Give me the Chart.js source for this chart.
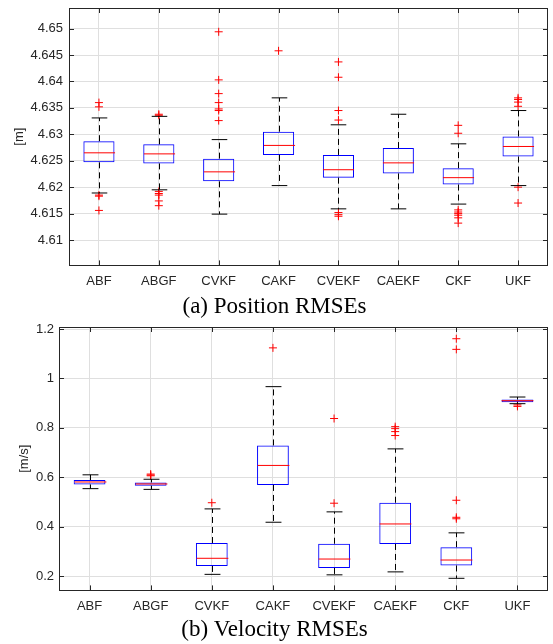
<!DOCTYPE html>
<html>
<head>
<meta charset="utf-8">
<script src="https://cdn.jsdelivr.net/npm/chart.js@4.4.0/dist/chart.umd.min.js"></script>
<style>
  html, body { margin: 0; padding: 0; background: #fff; }
  #wrap { position: relative; width: 553px; height: 644px; }
  .panel { position: absolute; left: 0; width: 553px; height: 322px; }
  #pos { top: 0; }
  #vel { top: 322px; }
</style>
</head>
<body>
<div id="wrap">
  <div class="panel" id="pos"><canvas id="posChart"></canvas></div>
  <div class="panel" id="vel"><canvas id="velChart"></canvas></div>
</div>
<script>
const filters = ['ABF', 'ABGF', 'CVKF', 'CAKF', 'CVEKF', 'CAEKF', 'CKF', 'UKF'];

// position RMSE [m]
const posLow  = [4.6189, 4.6195, 4.6149, 4.6203, 4.6159, 4.6159, 4.6168, 4.6203];
const posQ1   = [4.6247, 4.6245, 4.6211, 4.6261, 4.6218, 4.6226, 4.6205, 4.6258];
const posMed  = [4.6265, 4.6263, 4.6229, 4.6279, 4.6233, 4.6246, 4.6218, 4.6277];
const posQ3   = [4.6287, 4.6281, 4.6254, 4.6305, 4.6261, 4.6274, 4.6236, 4.6296];
const posHigh = [4.6331, 4.6334, 4.6290, 4.6369, 4.6318, 4.6338, 4.6282, 4.6345];
const posOutliers = [
  [4.6360, 4.6352, 4.6185, 4.6183, 4.6156],
  [4.6338, 4.6336, 4.6192, 4.6188, 4.6185, 4.6174, 4.6165],
  [4.6494, 4.6403, 4.6377, 4.6360, 4.6348, 4.6345, 4.6326],
  [4.6458],
  [4.6437, 4.6408, 4.6345, 4.6327, 4.6152, 4.6148, 4.6145],
  [],
  [4.6317, 4.6302, 4.6157, 4.6153, 4.6150, 4.6147, 4.6142, 4.6132],
  [4.6369, 4.6366, 4.6361, 4.6353, 4.6200, 4.6170]
];
const posTicks = [4.61, 4.615, 4.62, 4.625, 4.63, 4.635, 4.64, 4.645, 4.65];

// velocity RMSE [m/s]
const velLow  = [0.554, 0.551, 0.207, 0.418, 0.205, 0.217, 0.191, 0.898];
const velQ1   = [0.571, 0.566, 0.241, 0.569, 0.233, 0.330, 0.243, 0.904];
const velMed  = [0.581, 0.573, 0.272, 0.648, 0.269, 0.411, 0.265, 0.910];
const velQ3   = [0.589, 0.579, 0.334, 0.729, 0.331, 0.497, 0.317, 0.915];
const velHigh = [0.610, 0.592, 0.472, 0.967, 0.460, 0.715, 0.375, 0.925];
const velOutliers = [
  [],
  [0.613, 0.609, 0.606],
  [0.497],
  [1.124],
  [0.838, 0.495],
  [0.805, 0.797, 0.785, 0.769],
  [1.161, 1.118, 0.507, 0.438, 0.432],
  [0.893, 0.887]
];
const velTicks = [0.2, 0.4, 0.6, 0.8, 1, 1.2];

const tickFont = { family: "'Liberation Sans', Arial, Helvetica, sans-serif", size: 13 };
const captionFont = { family: "'Liberation Serif', 'Times New Roman', Times, serif", size: 23, weight: 'normal' };
const axisColor = '#262626';
const gridColor = '#dfdfdf';

// whiskers, caps, medians, plus the axes box with inward ticks
const boxPlot = {
  id: 'boxPlot',
  afterDatasetsDraw(chart, args, opts) {
    const ctx = chart.ctx;
    const yScale = chart.scales.y;
    const bars = chart.getDatasetMeta(0).data;
    ctx.save();
    ctx.lineWidth = 1;
    bars.forEach((bar, i) => {
      const x = Math.round(bar.x) + 0.5;
      const half = bar.width / 2;
      const cap = bar.width / 4;
      const yLow = yScale.getPixelForValue(opts.low[i]);
      const yHigh = yScale.getPixelForValue(opts.high[i]);
      const yQ1 = yScale.getPixelForValue(opts.q1[i]);
      const yQ3 = yScale.getPixelForValue(opts.q3[i]);
      const yMed = yScale.getPixelForValue(opts.med[i]);

      ctx.strokeStyle = '#000';
      ctx.setLineDash([6, 4]);
      ctx.beginPath();
      ctx.moveTo(x, yQ3);
      ctx.lineTo(x, yHigh);
      ctx.moveTo(x, yQ1);
      ctx.lineTo(x, yLow);
      ctx.stroke();

      ctx.setLineDash([]);
      ctx.beginPath();
      ctx.moveTo(x - cap, yHigh);
      ctx.lineTo(x + cap, yHigh);
      ctx.moveTo(x - cap, yLow);
      ctx.lineTo(x + cap, yLow);
      ctx.stroke();

      ctx.strokeStyle = '#ff0000';
      ctx.beginPath();
      ctx.moveTo(x - half, yMed);
      ctx.lineTo(x + half, yMed);
      ctx.stroke();
    });
    ctx.restore();
  },
  afterDraw(chart) {
    const ctx = chart.ctx;
    const { left, right, top, bottom } = chart.chartArea;
    const len = 5;
    ctx.save();
    ctx.strokeStyle = axisColor;
    ctx.lineWidth = 1;
    ctx.strokeRect(Math.round(left) + 0.5, Math.round(top) + 0.5,
      Math.round(right - left) - 1, Math.round(bottom - top));
    ctx.beginPath();
    chart.scales.y.ticks.forEach((t, i) => {
      const y = Math.round(chart.scales.y.getPixelForTick(i)) + 0.5;
      ctx.moveTo(left, y);
      ctx.lineTo(left + len, y);
      ctx.moveTo(right, y);
      ctx.lineTo(right - len, y);
    });
    chart.scales.x.ticks.forEach((t, i) => {
      const x = Math.round(chart.scales.x.getPixelForTick(i)) + 0.5;
      ctx.moveTo(x, top);
      ctx.lineTo(x, top + len);
      ctx.moveTo(x, bottom);
      ctx.lineTo(x, bottom - len);
    });
    ctx.stroke();
    ctx.restore();
  }
};

function makeBoxChart(canvasId, cfg) {
  const outlierPoints = filters.flatMap((f, i) => cfg.outliers[i].map(v => ({ x: f, y: v })));
  return new Chart(document.getElementById(canvasId).getContext('2d'), {
    type: 'bar',
    data: {
      labels: filters,
      datasets: [{
        data: filters.map((f, i) => [cfg.q1[i], cfg.q3[i]]),
        backgroundColor: 'rgba(0,0,0,0)',
        borderColor: '#0000ff',
        borderWidth: 1,
        borderSkipped: false,
        barPercentage: 0.52,
        categoryPercentage: 1
      }, {
        type: 'line',
        data: outlierPoints,
        showLine: false,
        pointStyle: 'cross',
        pointRadius: 4,
        pointBorderWidth: 1,
        borderColor: '#ff0000',
        backgroundColor: '#ff0000'
      }]
    },
    options: {
      responsive: true,
      maintainAspectRatio: false,
      animation: false,
      layout: { padding: { top: cfg.padTop, right: 4, left: 0, bottom: 0 } },
      plugins: {
        legend: { display: false },
        tooltip: { enabled: false },
        title: {
          display: true,
          position: 'bottom',
          text: cfg.caption,
          color: '#000',
          font: captionFont,
          padding: cfg.captionPad
        },
        boxPlot: { low: cfg.low, q1: cfg.q1, med: cfg.med, q3: cfg.q3, high: cfg.high }
      },
      scales: {
        x: {
          offset: true,
          grid: { offset: false, color: gridColor, drawTicks: false },
          border: { display: false },
          ticks: { color: axisColor, font: tickFont, padding: 8 },
          afterFit: scale => {
            scale.height = 24;
            scale.paddingLeft = 0;
            scale.paddingRight = 0;
          }
        },
        y: {
          min: cfg.min,
          max: cfg.max,
          grid: { color: gridColor, drawTicks: false },
          border: { display: false },
          ticks: {
            color: axisColor,
            font: tickFont,
            padding: cfg.tickPad,
            callback: v => String(Number(v.toFixed(3)))
          },
          afterBuildTicks: scale => { scale.ticks = cfg.ticks.map(v => ({ value: v })); },
          afterFit: scale => {
            scale.width = cfg.axisWidth;
            scale.paddingTop = 0;
            scale.paddingBottom = 0;
          },
          title: {
            display: true,
            text: cfg.unit,
            color: axisColor,
            font: tickFont,
            padding: { top: cfg.unitPad, bottom: 0 }
          }
        }
      }
    },
    plugins: [boxPlot]
  });
}

makeBoxChart('posChart', {
  low: posLow, q1: posQ1, med: posMed, q3: posQ3, high: posHigh, outliers: posOutliers,
  ticks: posTicks, min: 4.6052, max: 4.6539, unit: '[m]', caption: '(a) Position RMSEs',
  axisWidth: 69, tickPad: 6, unitPad: 12, padTop: 8, captionPad: { top: 4, bottom: 1 }
});

makeBoxChart('velChart', {
  low: velLow, q1: velQ1, med: velMed, q3: velQ3, high: velHigh, outliers: velOutliers,
  ticks: velTicks, min: 0.142, max: 1.2085, unit: '[m/s]', caption: '(b) Velocity RMSEs',
  axisWidth: 59, tickPad: 5, unitPad: 17, padTop: 4, captionPad: { top: 2, bottom: 0 }
});
</script>
</body>
</html>
